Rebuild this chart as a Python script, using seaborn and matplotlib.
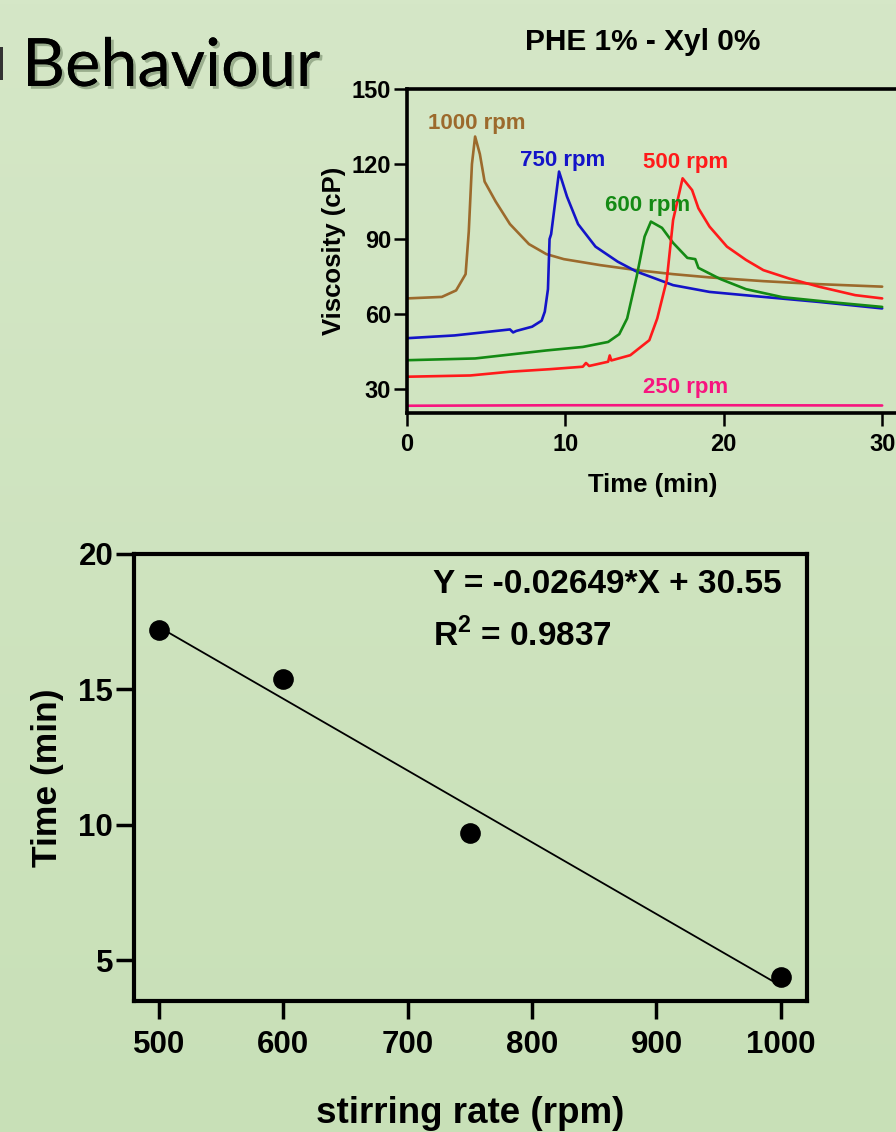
import numpy as np
import pandas as pd
import matplotlib
matplotlib.use("Agg")
import matplotlib.pyplot as plt
import seaborn as sns
from matplotlib import patheffects as pe
from matplotlib.patches import Rectangle

# ---------------- data: viscosity curves (top chart) ----------------
t_1000 = [0, 2.2, 3.1, 3.7, 3.9, 4.1, 4.3, 4.6, 4.9, 5.6, 6.5, 7.7, 8.8, 9.9, 12.2, 14.5, 16.8, 19.1, 22.5, 26.0, 30.0]
v_1000 = [66.3, 66.9, 69.5, 76, 93, 120, 131, 124, 113, 105, 96, 88, 84, 82, 79.6, 77.6, 76, 74.7, 73.2, 72, 71]

t_750 = [0, 3, 6.5, 6.7, 6.9, 7.9, 8.5, 8.7, 8.9, 9.0, 9.1, 9.6, 10.1, 10.8, 11.9, 13.3, 14.5, 16.8, 19.1, 22.5, 26, 30]
v_750 = [50.4, 51.5, 53.9, 52.7, 53.3, 55, 57.4, 61, 70, 90, 92, 117, 107, 96, 87, 81, 77, 71.6, 68.9, 66.9, 64.9, 62.3]

t_600 = [0, 4.3, 8.8, 11.1, 12.7, 13.4, 13.9, 14.5, 15.0, 15.4, 16.1, 16.8, 17.7, 18.2, 18.4, 19.8, 21.4, 23.7, 27.1, 30]
v_600 = [41.6, 42.3, 45.5, 46.9, 48.9, 52, 58.3, 75, 91, 97, 94.5, 88.5, 82.5, 82, 78.5, 74, 70, 66.8, 64.6, 62.9]

t_500 = [0, 4, 6.5, 9, 11.1, 11.3, 11.5, 12.7, 12.8, 12.9, 14.1, 15.3, 15.8, 16.4, 16.8, 17.4, 18.0, 18.4, 19.1, 20.2, 21.4, 22.5, 24.1, 26, 28.3, 30]
v_500 = [35, 35.5, 37, 38, 39, 40.5, 39.3, 41, 43.5, 41.5, 43.6, 49.6, 58.3, 73.6, 97.6, 114.3, 109.6, 102.3, 95, 87, 81.7, 77.6, 74.3, 71, 67.6, 66.3]

t_250 = [0, 10, 20, 30]
v_250 = [23.4, 23.6, 23.6, 23.5]

series_names = ["1000 rpm", "750 rpm", "600 rpm", "500 rpm", "250 rpm"]
series_colors = ["#9C6A2C", "#1414C8", "#148A14", "#FF1A1A", "#F7157F"]
label_x = [4.4, 9.85, 15.2, 17.6, 17.6]
label_y = [136.4, 121.6, 103.6, 120.8, 30.8]

# ---------------- data: onset time vs stirring rate (bottom chart) ----------------
stir_rate = [500, 600, 750, 1000]
onset_time = [17.2, 15.4, 9.7, 4.4]
fit_slope = -0.02649
fit_intercept = 30.55
fit_x = [500, 1000]
eq_text = "Y = -0.02649*X + 30.55"
r2_text = r"R$^{\mathbf{2}}$ = 0.9837"

top_title = "PHE 1% - Xyl 0%"
header_text = "Behaviour"

# ---------------- style ----------------
sns.set_theme(style="ticks")
plt.rcParams['font.family'] = ['Liberation Sans', 'DejaVu Sans']
plt.rcParams['font.weight'] = 'bold'
plt.rcParams['axes.labelweight'] = 'bold'
plt.rcParams['mathtext.fontset'] = 'custom'
plt.rcParams['mathtext.bf'] = 'Liberation Sans:bold'
plt.rcParams['mathtext.rm'] = 'Liberation Sans:bold'
for k in ['text.color', 'axes.labelcolor', 'xtick.color', 'ytick.color', 'axes.edgecolor']:
    plt.rcParams[k] = 'black'

W, H = 896, 1132
fig = plt.figure(figsize=(W / 100, H / 100), dpi=100)

# background gradient
bg = fig.add_axes([0, 0, 1, 1], zorder=-10)
grad = np.linspace(0, 1, 256).reshape(-1, 1)
top_c = np.array([213, 231, 199]) / 255
bot_c = np.array([200, 224, 183]) / 255
img = top_c[None, None, :] * (1 - grad[:, :, None]) + bot_c[None, None, :] * grad[:, :, None]
bg.imshow(img, aspect="auto", extent=[0, 1, 0, 1])
bg.set_axis_off()

def px_box(left, top, right, bottom):
    return [left / W, 1 - bottom / H, (right - left) / W, (bottom - top) / H]

# ---------------- top chart ----------------
ax1 = fig.add_axes(px_box(407, 89, 898, 413))
ax1.patch.set_alpha(0)
frames = []
for name, t, v in zip(series_names, [t_1000, t_750, t_600, t_500, t_250],
                      [v_1000, v_750, v_600, v_500, v_250]):
    frames.append(pd.DataFrame({"Time": t, "Viscosity": v, "Speed": name}))
df = pd.concat(frames, ignore_index=True)
sns.lineplot(data=df, x="Time", y="Viscosity", hue="Speed", hue_order=series_names,
             palette=series_colors, linewidth=1.9, ax=ax1, legend=False, sort=False,
             estimator=None)
for name, c, lx, ly in zip(series_names, series_colors, label_x, label_y):
    ax1.text(lx, ly, name, color=c, fontsize=16, fontweight="bold", ha="center", va="center")
ax1.set_xlim(0, 31)
ax1.set_ylim(20.5, 150)
ax1.set_xticks([0, 10, 20, 30])
ax1.set_yticks([30, 60, 90, 120, 150])
ax1.set_xlabel("Time (min)", fontsize=18.5, fontweight="bold", labelpad=12)
ax1.set_ylabel("Viscosity (cP)", fontsize=18.5, fontweight="bold", labelpad=4)
ax1.tick_params(axis="both", length=9.5, width=1.8, labelsize=17, colors="black", pad=2)
ax1.tick_params(axis="x", pad=5)
for lab in ax1.get_xticklabels() + ax1.get_yticklabels():
    lab.set_fontweight("bold")
for s in ["left", "bottom", "top"]:
    ax1.spines[s].set_linewidth(2.6)
    ax1.spines[s].set_color("black")
ax1.spines["right"].set_visible(False)
fig.text(643 / W, 1 - 42 / H, top_title, ha="center", va="center", fontsize=21.5, fontweight="bold")

# header
hdr = fig.text(22 / W, 1 - 86 / H, header_text, ha="left", va="baseline", fontsize=48,
               fontweight="normal", family=["Lato", "DejaVu Sans"], color="black")
hdr.set_path_effects([pe.withSimplePatchShadow(offset=(2, -2), shadow_rgbFace="#556b4a", alpha=0.45), pe.Normal()])
fig.patches.append(Rectangle((-6 / W, 1 - 80 / H), 9 / W, 33 / H, transform=fig.transFigure,
                             facecolor="#333333", edgecolor="none"))

# ---------------- bottom chart ----------------
ax2 = fig.add_axes(px_box(134, 554, 807, 1001))
ax2.patch.set_alpha(0)
fit_y = [fit_slope * x + fit_intercept for x in fit_x]
sns.lineplot(x=fit_x, y=fit_y, color="black", linewidth=1.3, ax=ax2)
sns.scatterplot(x=stir_rate, y=onset_time, color="black", s=190, edgecolor="black", ax=ax2, zorder=3)
ax2.set_xlim(480, 1021)
ax2.set_ylim(3.5, 20)
ax2.set_xticks([500, 600, 700, 800, 900, 1000])
ax2.set_yticks([5, 10, 15, 20])
ax2.set_xlabel("stirring rate (rpm)", fontsize=26.5, fontweight="bold", labelpad=26)
ax2.set_ylabel("Time (min)", fontsize=25.5, fontweight="bold", labelpad=10)
ax2.tick_params(axis="y", length=13, width=2.5, labelsize=22.5, pad=2)
ax2.tick_params(axis="x", length=13, width=2.5, labelsize=22.5, pad=8)
for lab in ax2.get_xticklabels() + ax2.get_yticklabels():
    lab.set_fontweight("bold")
for s in ax2.spines.values():
    s.set_linewidth(3)
    s.set_color("black")
ax2.text(720, 18.55, eq_text, fontsize=24, fontweight="bold", ha="left", va="baseline")
ax2.text(720, 16.6, r2_text, fontsize=24, fontweight="bold", ha="left", va="baseline")

fig.savefig("out.png", dpi=100)
